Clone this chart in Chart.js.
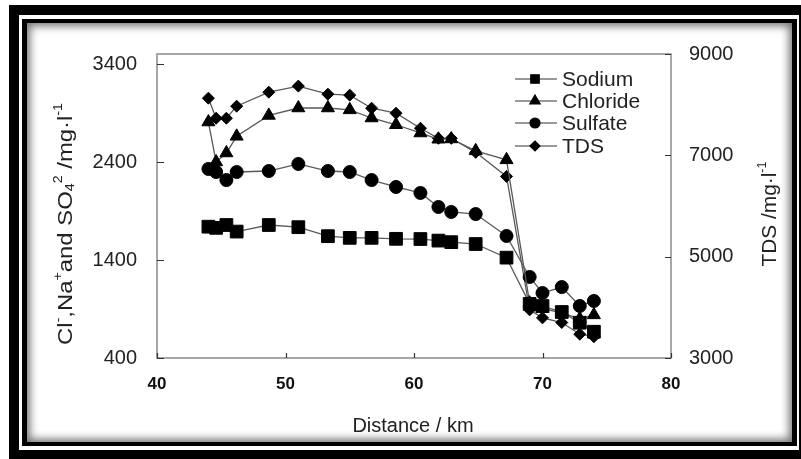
<!DOCTYPE html>
<html>
<head>
<meta charset="utf-8">
<script src="https://cdn.jsdelivr.net/npm/chart.js"></script>
<style>
  html, body { margin: 0; padding: 0; background: #fff; overflow: hidden; }
  #wrap { position: relative; width: 801px; height: 459px; overflow: hidden; }
  .frame { position: absolute; }
  #outer { left: 9px; top: 5px; width: 820px; height: 480px; background: #000; }
  #gap   { left: 19px; top: 15px; width: 780px; height: 435px; background: #fff; }
  #inner { left: 22px; top: 19px; width: 775px; height: 427px; background: #000; }
  #paper { left: 27px; top: 23px; width: 765px; height: 419px; background: #fff;
           box-shadow: inset 0 0 9px 3px rgba(0,0,0,0.55); }
  canvas { position: absolute; left: 0; top: 0; }
</style>
</head>
<body>
<div id="wrap">
  <div class="frame" id="outer"></div>
  <div class="frame" id="gap"></div>
  <div class="frame" id="inner"></div>
  <div class="frame" id="paper"></div>
  <canvas id="chart" width="801" height="459"></canvas>
</div>
<script>
// distance along the profile, km
const distance = [44.0, 44.6, 45.4, 46.2, 48.7, 51.0, 53.3, 55.0, 56.7, 58.6,
                  60.5, 61.9, 62.9, 64.8, 67.2, 69.0, 70.0, 71.5, 72.9, 74.0]

// mg/l, left axis
const sodium   = [1740, 1728, 1757, 1690, 1757, 1735, 1643, 1626, 1626, 1616,
                  1614, 1598, 1582, 1563, 1424, 952, 930, 869, 760, 668]
const chloride = [2808, 2400, 2492, 2662, 2875, 2951, 2951, 2932, 2849, 2780,
                  2696, 2632, 2635, 2514, 2422, 960, 905, 860, 800, 840]
const sulfate  = [2329, 2298, 2216, 2298, 2308, 2380, 2308, 2298, 2216, 2145,
                  2084, 1941, 1890, 1869, 1645, 1227, 1063, 1124, 931, 982]

// mg/l, right axis
const tds      = [8128, 7732, 7732, 7970, 8247, 8366, 8207, 8188, 7930, 7831,
                  7534, 7336, 7336, 7059, 6584, 3950, 3792, 3700, 3470, 3420]

const xTicks     = [40, 50, 60, 70, 80]
const leftTicks  = [400, 1400, 2400, 3400]
const rightTicks = [3000, 5000, 7000, 9000]

const seriesNames = ['Sodium', 'Chloride', 'Sulfate', 'TDS']

const FONT = 'Arial, "Liberation Sans", sans-serif'
const LINE = '#5a5a5a'

const points = (ys) => distance.map((d, i) => ({ x: d, y: ys[i] }))
const plain = (v) => String(v)

function series(label, ys, style, radius, axis) {
    return {
        label: label,
        data: points(ys),
        yAxisID: axis,
        borderColor: LINE,
        borderWidth: 1.3,
        pointStyle: style,
        pointRadius: radius,
        pointBackgroundColor: '#000',
        pointBorderColor: '#000',
        pointBorderWidth: 1,
        tension: 0,
    }
}

// legend drawn inside the plot, top right
const legendPlugin = {
    id: 'innerLegend',
    afterDraw(chart) {
        const ctx = chart.ctx
        const x0 = 515, x1 = 557, xm = 535, tx = 562
        const rows = [79, 101, 123, 146]
        const sizes = [6, 6, 5, 5]
        ctx.save()
        chart.data.datasets.forEach((ds, i) => {
            const y = rows[i]
            ctx.strokeStyle = '#333'
            ctx.lineWidth = 1.2
            ctx.beginPath()
            ctx.moveTo(x0, y)
            ctx.lineTo(x1, y)
            ctx.stroke()
            ctx.fillStyle = '#000'
            ctx.strokeStyle = '#000'
            Chart.helpers.drawPoint(ctx, { pointStyle: ds.pointStyle, radius: sizes[i], rotation: 0, borderWidth: 1 }, xm, y)
            ctx.fillStyle = '#222'
            ctx.font = '21px ' + FONT
            ctx.textAlign = 'left'
            ctx.textBaseline = 'middle'
            ctx.fillText(seriesNames[i], tx, y + 1)
        })
        ctx.restore()
    }
}

// box, inward tick marks, axis titles
const framePlugin = {
    id: 'plotFrame',
    beforeDatasetsDraw(chart) {
        const { ctx, chartArea: a, scales } = chart
        ctx.save()
        ctx.strokeStyle = '#8a8a8a'
        ctx.lineWidth = 1.5
        ctx.strokeRect(a.left, a.top, a.right - a.left, a.bottom - a.top)

        ctx.strokeStyle = '#333'
        ctx.lineWidth = 1.2
        ctx.beginPath()
        leftTicks.forEach(v => {
            const y = Math.round(scales.y.getPixelForValue(v)) + 0.5
            ctx.moveTo(a.left, y); ctx.lineTo(a.left + 7, y)
        })
        rightTicks.forEach(v => {
            const y = Math.round(scales.y1.getPixelForValue(v)) + 0.5
            ctx.moveTo(a.right, y); ctx.lineTo(a.right - 6, y)
        })
        xTicks.forEach(v => {
            const x = Math.round(scales.x.getPixelForValue(v)) + 0.5
            ctx.moveTo(x, a.bottom); ctx.lineTo(x, a.bottom - 5)
        })
        ctx.stroke()
        ctx.restore()
    },
    afterDraw(chart) {
        const ctx = chart.ctx
        ctx.save()
        ctx.fillStyle = '#222'

        // x title
        ctx.font = '20px ' + FONT
        ctx.textAlign = 'center'
        ctx.textBaseline = 'middle'
        ctx.fillText('Distance / km', 413, 426)

        // left title with sub/superscripts
        drawRotated(ctx, 65, 224, 242, [
            ['Cl', 0], ['-', 1], [',Na', 0], ['+', 1], ['and SO', 0], ['4', -1], ['2', 1], [' /mg·l', 0], ['-1', 1]
        ])
        // right title
        drawRotated(ctx, 769, 214, 105, [
            ['TDS /mg·l', 0], ['-1', 1]
        ])
        ctx.restore()
    }
}

function drawRotated(ctx, cx, cy, length, parts) {
    const big = '20px ' + FONT, small = '12px ' + FONT
    let total = 0
    const widths = parts.map(([t, s]) => {
        ctx.font = s ? small : big
        const w = ctx.measureText(t).width
        total += w
        return w
    })
    ctx.save()
    ctx.translate(cx, cy)
    ctx.rotate(-Math.PI / 2)
    ctx.scale(length / total, 1)
    ctx.textAlign = 'left'
    ctx.textBaseline = 'middle'
    let x = -total / 2
    parts.forEach(([t, s], i) => {
        ctx.font = s ? small : big
        const dy = s === 1 ? -7 : (s === -1 ? 5 : 0)
        ctx.fillText(t, x, dy + 1)
        x += widths[i]
    })
    ctx.restore()
}

new Chart(document.getElementById('chart'), {
    type: 'line',
    data: {
        datasets: [
            series('Sodium', sodium, 'rect', 9, 'y'),
            series('Chloride', chloride, 'triangle', 7.5, 'y'),
            series('Sulfate', sulfate, 'circle', 6.5, 'y'),
            series('TDS', tds, 'rectRot', 6, 'y1'),
        ]
    },
    options: {
        responsive: false,
        devicePixelRatio: 1,
        animation: false,
        layout: { padding: { top: 54, left: 0, right: 0, bottom: 0 } },
        plugins: {
            legend: { display: false },
            tooltip: { enabled: false },
        },
        scales: {
            x: {
                type: 'linear',
                min: 40, max: 80,
                afterBuildTicks: (s) => { s.ticks = xTicks.map(v => ({ value: v })) },
                afterFit: (s) => { s.height = 101 },
                grid: { display: false, drawTicks: false },
                border: { display: false },
                ticks: { padding: 16, color: '#111', callback: plain, font: { family: FONT, size: 17, weight: 'bold' } },
            },
            y: {
                position: 'left',
                min: 400, max: 3502,
                afterBuildTicks: (s) => { s.ticks = leftTicks.map(v => ({ value: v })) },
                afterFit: (s) => { s.width = 157 },
                grid: { display: false, drawTicks: false },
                border: { display: false },
                ticks: { padding: 20, color: '#222', callback: plain, font: { family: FONT, size: 20 } },
            },
            y1: {
                position: 'right',
                min: 3000, max: 9000,
                afterBuildTicks: (s) => { s.ticks = rightTicks.map(v => ({ value: v })) },
                afterFit: (s) => { s.width = 130 },
                grid: { display: false, drawTicks: false },
                border: { display: false },
                ticks: { padding: 18, color: '#222', callback: plain, font: { family: FONT, size: 20 } },
            },
        },
    },
    plugins: [framePlugin, legendPlugin],
})
</script>
</body>
</html>
